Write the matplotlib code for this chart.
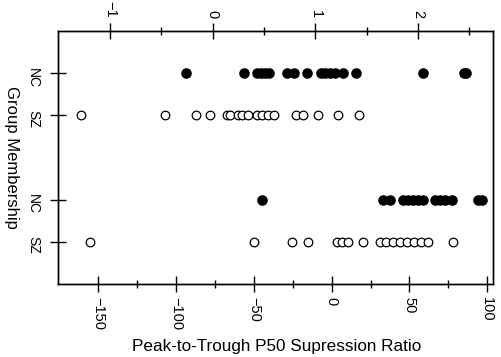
import matplotlib
matplotlib.use("Agg")
import matplotlib.pyplot as plt

# rows read against the top scale
nc_top = [-0.26, 0.30, 0.43, 0.47, 0.51, 0.55, 0.72, 0.79, 0.92, 1.05,
          1.09, 1.14, 1.19, 1.27, 1.40, 2.05, 2.45, 2.47]
sz_top = [-1.28, -0.46, -0.16, -0.03, 0.14, 0.17, 0.25, 0.29, 0.34, 0.43,
          0.48, 0.54, 0.60, 0.81, 0.88, 1.03, 1.22, 1.42]
# rows read against the bottom scale (peak-to-trough ratio)
nc_bottom = [-45.0, 33.2, 37.5, 46.0, 49.2, 52.4, 55.7, 58.9, 66.4, 69.6,
             72.8, 77.1, 94.2, 96.4]
sz_bottom = [-155.3, -49.7, -25.7, -14.9, 3.2, 6.6, 10.2, 20.1, 31.0, 34.9,
             39.4, 43.9, 48.4, 52.9, 57.4, 61.9, 78.1]

row_pos = [4, 3, 1, 0]
row_labels = ["NC", "SZ", "NC", "SZ"]
bottom_ticks = [-150, -100, -50, 0, 50, 100]
top_ticks = [-1, 0, 1, 2]

plt.rcParams['font.family'] = ['Liberation Sans', 'DejaVu Sans']

fig = plt.figure(figsize=(5.02, 3.57), dpi=100)
ax = fig.add_axes([58/502, 1-284/357, (493.3-58)/502, (284-31)/357])
ax2 = ax.twiny()

ax.set_xlim(-175.9, 103.9)
ax2.set_xlim(-1.506, 2.732)
ax.set_ylim(-1, 5)

# filled = NC, open = SZ
ax2.plot(nc_top, [row_pos[0]]*len(nc_top), 'o', ms=6.6, color='black')
ax2.plot(sz_top, [row_pos[1]]*len(sz_top), 'o', ms=6.2, mfc='white',
         mec='black', mew=0.9)
ax.plot(nc_bottom, [row_pos[2]]*len(nc_bottom), 'o', ms=6.6, color='black')
ax.plot(sz_bottom, [row_pos[3]]*len(sz_bottom), 'o', ms=6.2, mfc='white',
        mec='black', mew=0.9)

#
ax.set_xticks(bottom_ticks)
ax.set_xticks([-125, -75, -25, 25, 75], minor=True)
ax2.set_xticks(top_ticks)
ax2.set_xticks([-0.5, 0.5, 1.5, 2.5], minor=True)
ax.set_yticks(row_pos)
ax.set_yticklabels(row_labels)

ax.tick_params(axis='x', which='major', direction='inout', length=11,
               width=1, labelsize=10.5, labelrotation=270, pad=4)
ax.tick_params(axis='x', which='minor', direction='inout', length=6, width=1)
ax2.tick_params(axis='x', which='major', direction='inout', length=11,
                width=1, labelsize=10.5, labelrotation=270, pad=4)
ax2.tick_params(axis='x', which='minor', direction='inout', length=6, width=1)
ax.tick_params(axis='y', direction='inout', length=12, width=1,
               labelsize=10, labelrotation=270, pad=7)

for a in (ax, ax2):
    for s in a.spines.values():
        s.set_linewidth(1)

fig.text(277/502, 1-346/357, "Peak-to-Trough P50 Supression Ratio",
         ha='center', va='center', fontsize=12.3)
fig.text(11/502, 1-157/357, "Group Membership", rotation=270,
         ha='center', va='center', fontsize=12)

fig.savefig("out.png", dpi=100)
